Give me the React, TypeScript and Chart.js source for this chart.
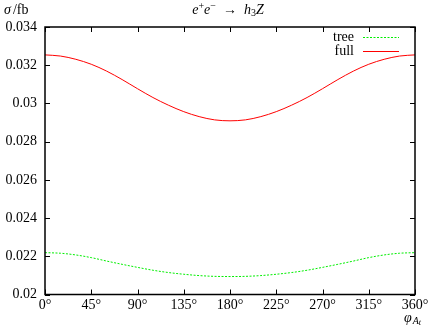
import React, { useEffect, useRef } from "react";
import { Chart, registerables } from "chart.js";

Chart.register(...registerables);

const angles = [0, 15, 30, 45, 60, 75, 90, 105, 120, 135, 150, 165, 180, 195, 210, 225, 240, 255, 270, 285, 300, 315, 330, 345, 360];
const fullValues = [0.03254, 0.03248, 0.03231, 0.03205, 0.03169, 0.03125, 0.03077, 0.03031, 0.02991, 0.02957, 0.02931, 0.02914, 0.02909, 0.02914, 0.02931, 0.02957, 0.02991, 0.03031, 0.03077, 0.03125, 0.03169, 0.03205, 0.03231, 0.03248, 0.03254];
const treeValues = [0.02219, 0.02216, 0.02207, 0.02193, 0.02175, 0.02158, 0.02142, 0.02127, 0.02115, 0.02106, 0.02099, 0.02095, 0.02094, 0.02095, 0.02099, 0.02106, 0.02115, 0.02127, 0.02142, 0.02158, 0.02175, 0.02193, 0.02207, 0.02216, 0.02219];
const xTicks = [0, 45, 90, 135, 180, 225, 270, 315, 360];
const yTicks = [0.02, 0.022, 0.024, 0.026, 0.028, 0.03, 0.032, 0.034];
const seriesNames = ["tree", "full"];

const FONT = "'Liberation Serif', 'DejaVu Serif', serif";
const FS = 14;

const decorPlugin = {
  id: "decor",
  afterDraw(chart: any) {
    const { ctx, chartArea: a, scales } = chart;
    const xs = scales.x;
    const ys = scales.y;
    ctx.save();
    ctx.strokeStyle = "#000";
    ctx.lineWidth = 1.5;
    ctx.strokeRect(a.left, a.top, a.right - a.left, a.bottom - a.top);
    ctx.lineWidth = 1;
    const tl = 5;
    ctx.beginPath();
    xTicks.forEach((v) => {
      const px = Math.round(xs.getPixelForValue(v)) + 0.5;
      ctx.moveTo(px, a.bottom);
      ctx.lineTo(px, a.bottom - tl);
      ctx.moveTo(px, a.top);
      ctx.lineTo(px, a.top + tl);
    });
    yTicks.forEach((v) => {
      const py = Math.round(ys.getPixelForValue(v)) + 0.5;
      ctx.moveTo(a.left, py);
      ctx.lineTo(a.left + tl, py);
      ctx.moveTo(a.right, py);
      ctx.lineTo(a.right - tl, py);
    });
    ctx.stroke();

    // y label
    ctx.fillStyle = "#000";
    ctx.textBaseline = "middle";
    ctx.textAlign = "left";
    ctx.font = "italic " + FS + "px " + FONT;
    ctx.fillText("σ", 4, 10);
    let w = ctx.measureText("σ").width;
    ctx.font = FS + "px " + FONT;
    ctx.fillText("/fb", 4 + w + 2, 10);

    // title
    const parts: [string, string, number][] = [
      ["e", "italic " + FS + "px " + FONT, 0],
      ["+", "10px " + FONT, -4],
      ["e", "italic " + FS + "px " + FONT, 0],
      ["−", "10px " + FONT, -4],
      ["  →  ", FS + "px " + FONT, 0],
      ["h", "italic " + FS + "px " + FONT, 0],
      ["3", "10px " + FONT, 3],
      ["Z", "italic " + FS + "px " + FONT, 0],
    ];
    let total = 0;
    parts.forEach(([t, f]) => {
      ctx.font = f;
      total += ctx.measureText(t).width;
    });
    let x = 228 - total / 2;
    parts.forEach(([t, f, dy]) => {
      ctx.font = f;
      ctx.fillText(t, x, 10 + dy);
      x += ctx.measureText(t).width;
    });

    // x label
    ctx.font = "italic " + FS + "px " + FONT;
    ctx.fillText("φ", 404, 318);
    w = ctx.measureText("φ").width;
    ctx.font = "italic 10px " + FONT;
    ctx.fillText("A", 404 + w + 1, 321);
    const wA = ctx.measureText("A").width;
    ctx.font = "italic 8px " + FONT;
    ctx.fillText("t", 404 + w + 1 + wA, 323);

    // legend
    ctx.font = FS + "px " + FONT;
    ctx.textAlign = "right";
    const legendY = [37, 51];
    const colors = ["#00ee00", "#ff0000"];
    seriesNames.forEach((name, i) => {
      ctx.fillStyle = "#000";
      ctx.fillText(name, 354, legendY[i]);
      ctx.strokeStyle = colors[i];
      ctx.lineWidth = 1;
      ctx.setLineDash(i === 0 ? [2, 1.5] : []);
      ctx.beginPath();
      ctx.moveTo(363, legendY[i] + 0.5);
      ctx.lineTo(399, legendY[i] + 0.5);
      ctx.stroke();
    });
    ctx.setLineDash([]);
    ctx.restore();
  },
};

function fmtY(v: number) {
  return String(parseFloat(v.toFixed(3)));
}

export default function App() {
  const ref = useRef<HTMLCanvasElement | null>(null);
  useEffect(() => {
    if (!ref.current) return;
    const chart = new Chart(ref.current, {
      type: "line",
      data: {
        datasets: [
          {
            label: seriesNames[0],
            data: angles.map((a, i) => ({ x: a, y: treeValues[i] })),
            borderColor: "#00ee00",
            borderWidth: 1,
            borderDash: [2, 1.5],
            pointRadius: 0,
            cubicInterpolationMode: "monotone",
          },
          {
            label: seriesNames[1],
            data: angles.map((a, i) => ({ x: a, y: fullValues[i] })),
            borderColor: "#ff0000",
            borderWidth: 1,
            pointRadius: 0,
            cubicInterpolationMode: "monotone",
          },
        ],
      },
      options: {
        animation: false,
        responsive: false,
        layout: { padding: { left: 0, right: 17, top: 27, bottom: 0 } },
        plugins: { legend: { display: false }, tooltip: { enabled: false }, title: { display: false } },
        scales: {
          x: {
            type: "linear",
            min: 0,
            max: 360,
            afterBuildTicks: (s: any) => {
              s.ticks = xTicks.map((v) => ({ value: v }));
            },
            afterFit: (s: any) => {
              s.height = 32.5;
            },
            grid: { display: false, drawTicks: false },
            border: { display: false },
            ticks: {
              padding: 2,
              color: "#000",
              maxRotation: 0,
              autoSkip: false,
              font: { family: FONT, size: FS },
              callback: (v: any) => v + "°",
            },
          },
          y: {
            type: "linear",
            min: 0.02,
            max: 0.034,
            afterBuildTicks: (s: any) => {
              s.ticks = yTicks.map((v) => ({ value: v }));
            },
            afterFit: (s: any) => {
              s.width = 45;
            },
            grid: { display: false, drawTicks: false },
            border: { display: false },
            ticks: {
              padding: 8,
              color: "#000",
              autoSkip: false,
              font: { family: FONT, size: FS },
              callback: (v: any) => fmtY(Number(v)),
            },
          },
        },
      },
      plugins: [decorPlugin],
    } as any);
    return () => chart.destroy();
  }, []);
  return (
    <div style={{ position: "fixed", left: 0, top: 0, width: 432, height: 327, background: "#fff" }}>
      <canvas ref={ref} width={432} height={327} style={{ display: "block" }} />
    </div>
  );
}
